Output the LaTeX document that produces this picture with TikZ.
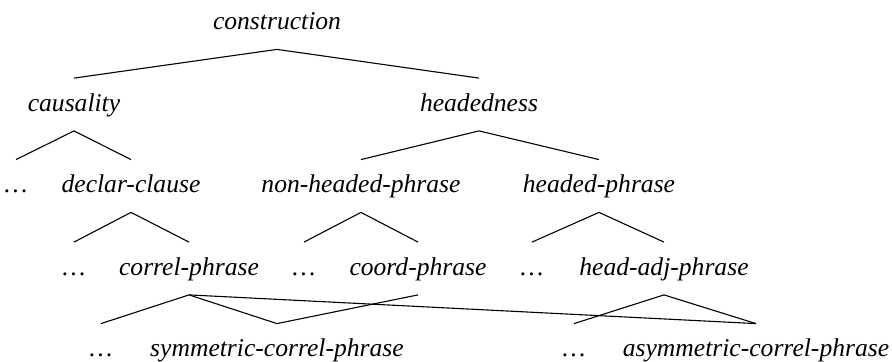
\documentclass[tikz,border=0pt]{standalone}
\usepackage{fontspec}
\setmainfont{Liberation Serif}
\begin{document}
\begin{tikzpicture}[x=0.5pt,y=-0.5pt,
  tn/.style={anchor=base,inner sep=0pt,text height=16.5pt,text depth=9.5pt,
    font=\fontsize{12.8}{15}\selectfont\itshape},
  br/.style={line width=0.55pt}]
\useasboundingbox (0,0) rectangle (892,362);
% row 1
\node[tn] (construction) at (277,30) {construction};
% row 2
\node[tn] (causality) at (74,111.5) {causality};
\node[tn] (headedness) at (479,111.5) {headedness};
% row 3
\node[tn] (d1) at (16,193) {\dots};
\node[tn] (declar) at (131,193) {declar-clause};
\node[tn] (nonheaded) at (361,193) {non-headed-phrase};
\node[tn] (headed) at (599,193) {headed-phrase};
% row 4
\node[tn] (d2) at (74,275.5) {\dots};
\node[tn] (correl) at (189,275.5) {correl-phrase};
\node[tn] (d3) at (304,275.5) {\dots};
\node[tn] (coord) at (418,275.5) {coord-phrase};
\node[tn] (d4) at (532,275.5) {\dots};
\node[tn] (headadj) at (664,275.5) {head-adj-phrase};
% row 5
\node[tn] (d5) at (101,357) {\dots};
\node[tn] (sym) at (277,357) {symmetric-correl-phrase};
\node[tn] (d6) at (574,357) {\dots};
\node[tn] (asym) at (756,357) {asymmetric-correl-phrase};
% branches
\draw[br] (causality.north) -- (construction.south) -- (headedness.north);
\draw[br] (d1.north) -- (causality.south) -- (declar.north);
\draw[br] (nonheaded.north) -- (headedness.south) -- (headed.north);
\draw[br] (d2.north) -- (declar.south) -- (correl.north);
\draw[br] (d3.north) -- (nonheaded.south) -- (coord.north);
\draw[br] (d4.north) -- (headed.south) -- (headadj.north);
\draw[br] (d5.north) -- (correl.south) -- (sym.north);
\draw[br] (correl.south) -- (asym.north);
\draw[br] (coord.south) -- (sym.north);
\draw[br] (d6.north) -- (headadj.south) -- (asym.north);
\end{tikzpicture}
\end{document}
